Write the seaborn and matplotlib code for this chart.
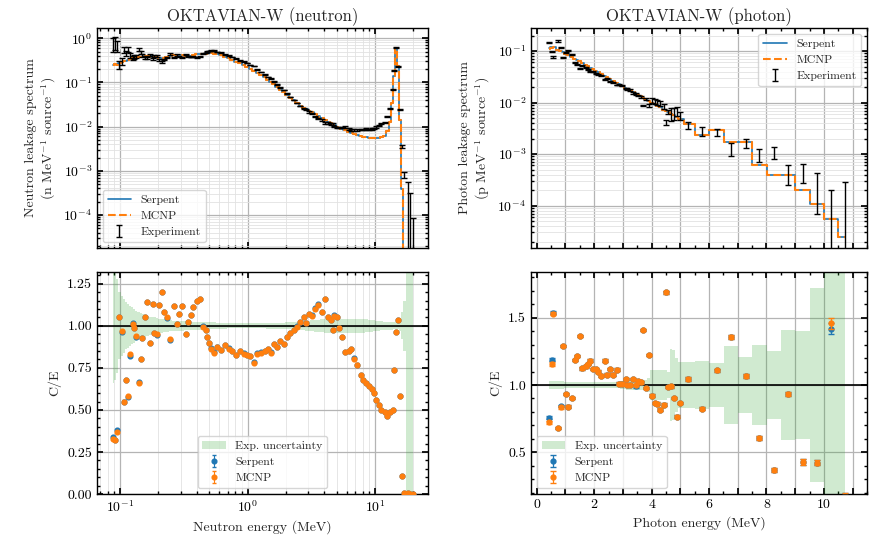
import numpy as np
import pandas as pd
import seaborn as sns
import matplotlib
matplotlib.use("Agg")
import matplotlib.pyplot as plt
from matplotlib.ticker import MultipleLocator, LogLocator, NullFormatter, FuncFormatter

# ---------------- neutron data (OKTAVIAN-W) ----------------
n_energy = [0.088, 0.091, 0.095, 0.099, 0.103, 0.107, 0.111, 0.115, 0.120, 0.126,
            0.129, 0.133, 0.141, 0.146, 0.150, 0.157, 0.164, 0.172, 0.180, 0.185,
            0.195, 0.203, 0.212, 0.220, 0.233, 0.247, 0.263, 0.279, 0.290, 0.309,
            0.328, 0.341, 0.359, 0.376, 0.400, 0.424, 0.450, 0.470, 0.484, 0.499,
            0.520, 0.545, 0.58, 0.62, 0.66, 0.71, 0.76, 0.81, 0.87, 0.93,
            0.99, 1.05, 1.12, 1.19, 1.28, 1.36, 1.44, 1.53, 1.60, 1.70,
            1.81, 1.92, 2.04, 2.17, 2.30, 2.44, 2.59, 2.75, 2.89, 3.03,
            3.20, 3.40, 3.60, 3.84, 4.05, 4.30, 4.50, 4.67, 4.80, 5.00,
            5.20, 5.48, 5.80, 6.20, 6.50, 6.85, 7.20, 7.70, 8.10, 8.50,
            9.00, 9.40, 9.80, 10.2, 10.8, 11.2, 11.9, 12.5, 13.2, 13.7,
            14.0, 14.5, 15.1, 15.7, 16.4, 17.0, 18.1, 18.8, 19.7]

# Serpent leakage spectrum at the experimental energies
n_serpent = [0.25, 0.255, 0.26, 0.27, 0.285, 0.30, 0.31, 0.32, 0.34, 0.36,
             0.37, 0.36, 0.37, 0.38, 0.38, 0.39, 0.40, 0.38, 0.39, 0.38,
             0.37, 0.36, 0.35, 0.36, 0.38, 0.40, 0.41, 0.42, 0.42, 0.41,
             0.40, 0.39, 0.40, 0.42, 0.43, 0.44, 0.45, 0.45, 0.46, 0.46,
             0.46, 0.45, 0.43, 0.41, 0.38, 0.35, 0.32, 0.29, 0.27, 0.245,
             0.225, 0.205, 0.185, 0.165, 0.145, 0.13, 0.115, 0.102, 0.092, 0.08,
             0.069, 0.06, 0.052, 0.045, 0.039, 0.034, 0.030, 0.027, 0.025, 0.023,
             0.021, 0.019, 0.017, 0.0155, 0.014, 0.0128, 0.012, 0.0112, 0.0107, 0.0100,
             0.0095, 0.0089, 0.0082, 0.0076, 0.0072, 0.0068, 0.0064, 0.0061, 0.0059, 0.0058,
             0.0056, 0.0055, 0.0055, 0.0055, 0.0056, 0.0058, 0.0062, 0.0078, 0.0125, 0.035,
             0.14, 0.6, 0.24, 0.014, 3.8e-4, 3.2e-6, 7e-7, 2.6e-7, 7e-8]

n_ce_serpent = [0.34, 0.32, 0.38, 1.055, 0.966, 0.55, 0.68, 0.575, 0.82, 1.016,
                0.99, 0.936, 0.665, 0.80, 0.927, 1.055, 1.14, 0.897, 1.13, 0.957,
                0.946, 1.125, 1.204, 1.085, 1.046, 0.917, 1.12, 1.01, 1.07, 1.12,
                0.95, 1.025, 1.065, 1.11, 1.15, 1.16, 0.996, 0.976, 0.936, 0.897,
                0.867, 0.843, 0.877, 0.857, 0.887, 0.867, 0.851, 0.827, 0.851, 0.837,
                0.827, 0.823, 0.784, 0.837, 0.843, 0.85, 0.863, 0.843, 0.89, 0.877,
                0.91, 0.89, 0.936, 0.957, 0.976, 0.996, 1.025, 1.055, 1.016, 1.07,
                1.065, 1.105, 1.13, 1.085, 1.16, 1.055, 1.035, 0.976, 1.065, 1.055,
                0.99, 0.936, 0.843, 0.85, 0.86, 0.807, 0.768, 0.708, 0.679, 0.659,
                0.645, 0.625, 0.60, 0.56, 0.53, 0.50, 0.49, 0.466, 0.49, 0.50,
                0.738, 0.966, 1.036, 0.583, 0.107, 0.004, 0.003, 0.002, 0.002]

n_ce_mcnp = [0.33, 0.32, 0.37, 1.05, 0.97, 0.55, 0.675, 0.58, 0.83, 1.01,
             0.99, 0.94, 0.66, 0.80, 0.93, 1.05, 1.14, 0.90, 1.13, 0.96,
             0.95, 1.125, 1.20, 1.085, 1.05, 0.92, 1.12, 1.01, 1.07, 1.12,
             0.95, 1.025, 1.065, 1.11, 1.15, 1.16, 0.995, 0.975, 0.935, 0.895,
             0.865, 0.84, 0.875, 0.855, 0.885, 0.865, 0.85, 0.825, 0.85, 0.835,
             0.825, 0.82, 0.78, 0.835, 0.84, 0.85, 0.86, 0.84, 0.89, 0.875,
             0.91, 0.89, 0.935, 0.955, 0.975, 0.995, 1.02, 1.05, 1.015, 1.07,
             1.06, 1.10, 1.125, 1.08, 1.16, 1.05, 1.035, 0.975, 1.06, 1.05,
             0.99, 0.935, 0.845, 0.85, 0.86, 0.805, 0.77, 0.71, 0.68, 0.66,
             0.645, 0.625, 0.60, 0.56, 0.53, 0.50, 0.49, 0.465, 0.49, 0.50,
             0.74, 0.965, 1.035, 0.58, 0.107, 0.004, 0.003, 0.002, 0.002]

# relative experimental uncertainty
n_unc = [0.34, 0.32, 0.28, 0.20, 0.18, 0.16, 0.14, 0.13, 0.12, 0.11,
         0.10, 0.09, 0.08, 0.075, 0.07, 0.065, 0.06, 0.055, 0.05, 0.05,
         0.045, 0.042, 0.04, 0.038, 0.035, 0.033, 0.031, 0.03, 0.029, 0.028,
         0.027, 0.026, 0.025, 0.025, 0.024, 0.023, 0.022, 0.022, 0.021, 0.021,
         0.02, 0.02, 0.018, 0.017, 0.016, 0.015, 0.015, 0.015, 0.015, 0.015,
         0.015, 0.015, 0.015, 0.015, 0.015, 0.015, 0.016, 0.016, 0.017, 0.017,
         0.018, 0.018, 0.02, 0.02, 0.021, 0.022, 0.024, 0.026, 0.028, 0.03,
         0.032, 0.034, 0.036, 0.038, 0.04, 0.04, 0.04, 0.04, 0.04, 0.04,
         0.04, 0.04, 0.04, 0.04, 0.04, 0.04, 0.04, 0.04, 0.04, 0.038,
         0.036, 0.034, 0.032, 0.03, 0.028, 0.026, 0.025, 0.025, 0.024, 0.022,
         0.02, 0.02, 0.02, 0.03, 0.08, 0.15, 1.4, 1.4, 1.4]

# ---------------- photon data (OKTAVIAN-W) ----------------
p_energy = [0.43, 0.52, 0.58, 0.74, 0.83, 0.90, 1.03, 1.09, 1.23, 1.32,
            1.40, 1.50, 1.59, 1.70, 1.79, 1.87, 1.96, 2.06, 2.15, 2.25,
            2.37, 2.45, 2.54, 2.66, 2.78, 2.87, 2.96, 3.10, 3.15, 3.24,
            3.36, 3.47, 3.53, 3.62, 3.70, 3.80, 3.90, 4.00, 4.11, 4.20,
            4.29, 4.42, 4.49, 4.58, 4.67, 4.77, 4.89, 4.98, 5.27, 5.77,
            6.26, 6.75, 7.27, 7.75, 8.26, 8.76, 9.26, 9.75, 10.25, 10.75]

p_serpent = [0.112, 0.118, 0.118, 0.106, 0.100, 0.0960, 0.0887, 0.0849, 0.0766, 0.0716,
             0.0676, 0.0628, 0.0587, 0.0542, 0.0507, 0.0478, 0.0447, 0.0415, 0.0389, 0.0361,
             0.0330, 0.0312, 0.0292, 0.0267, 0.0244, 0.0229, 0.0214, 0.0193, 0.0186, 0.0174,
             0.0159, 0.0147, 0.0141, 0.0132, 0.0124, 0.0115, 0.0107, 0.00995, 0.00917, 0.00859,
             0.00804, 0.0073, 0.00693, 0.00649, 0.00607, 0.00564, 0.00516, 0.00483, 3.8e-3, 2.3e-3,
             2.9e-3, 1.75e-3, 1.75e-3, 6.0e-4, 4.0e-4, 4.0e-4, 2.0e-4, 1.05e-4, 5.4e-5, 2.4e-5]

p_ce_serpent = [0.756, 1.187, 1.537, 0.68, 0.843, 1.29, 0.934, 0.84, 0.904, 1.187,
                1.216, 1.364, 1.125, 1.138, 1.157, 1.182, 1.118, 1.118, 1.10, 1.069,
                1.18, 1.076, 1.118, 1.076, 1.113, 1.01, 1.01, 1.044, 1.0, 1.0,
                1.044, 0.99, 1.027, 1.02, 1.41, 0.978, 1.224, 0.921, 0.867, 0.862,
                0.818, 0.855, 1.69, 0.985, 0.99, 0.904, 0.764, 0.867, 1.044, 0.823,
                1.109, 1.36, 1.069, 0.609, 0.37, 0.936, 0.429, 0.424, 1.42, 0.16]

p_ce_mcnp = [0.724, 1.157, 1.53, 0.68, 0.835, 1.29, 0.934, 0.84, 0.904, 1.187,
             1.216, 1.364, 1.125, 1.138, 1.157, 1.182, 1.118, 1.118, 1.10, 1.069,
             1.18, 1.076, 1.118, 1.076, 1.113, 1.01, 1.01, 1.044, 1.0, 1.0,
             1.044, 1.0, 1.027, 1.02, 1.41, 0.978, 1.224, 0.921, 0.867, 0.862,
             0.818, 0.855, 1.69, 0.985, 0.99, 0.904, 0.764, 0.867, 1.044, 0.823,
             1.109, 1.36, 1.069, 0.609, 0.37, 0.936, 0.429, 0.424, 1.46, 0.16]

p_unc = [0.03, 0.03, 0.03, 0.03, 0.03, 0.03, 0.02, 0.02, 0.02, 0.02,
         0.02, 0.02, 0.02, 0.02, 0.02, 0.02, 0.02, 0.02, 0.02, 0.02,
         0.02, 0.02, 0.02, 0.02, 0.02, 0.02, 0.03, 0.03, 0.04, 0.04,
         0.04, 0.04, 0.04, 0.04, 0.04, 0.04, 0.05, 0.11, 0.11, 0.11,
         0.11, 0.11, 0.11, 0.10, 0.27, 0.26, 0.20, 0.17, 0.17, 0.18,
         0.16, 0.29, 0.21, 0.30, 0.25, 0.41, 0.40, 0.72, 4.3, 0.93]

p_ce_stat = [0.012, 0.012, 0.01, 0.01, 0.01, 0.01, 0.01, 0.01, 0.01, 0.01,
             0.01, 0.01, 0.01, 0.01, 0.01, 0.01, 0.01, 0.01, 0.01, 0.01,
             0.01, 0.01, 0.01, 0.01, 0.01, 0.01, 0.01, 0.01, 0.01, 0.01,
             0.01, 0.01, 0.01, 0.01, 0.01, 0.01, 0.01, 0.01, 0.01, 0.01,
             0.01, 0.01, 0.012, 0.01, 0.01, 0.01, 0.01, 0.01, 0.012, 0.012,
             0.012, 0.015, 0.015, 0.015, 0.015, 0.015, 0.02, 0.02, 0.04, 0.04]
n_ce_stat = 0.006

# ---------------- derived tables ----------------
neu = pd.DataFrame({"E": n_energy, "serpent": n_serpent,
                    "ce_s": n_ce_serpent, "ce_m": n_ce_mcnp, "unc": n_unc})
neu["exp"] = neu["serpent"] / neu["ce_s"]
neu["mcnp"] = neu["exp"] * neu["ce_m"]

pho = pd.DataFrame({"E": p_energy, "serpent": p_serpent,
                    "ce_s": p_ce_serpent, "ce_m": p_ce_mcnp, "unc": p_unc,
                    "stat": p_ce_stat})
pho["exp"] = pho["serpent"] / pho["ce_s"]
pho["mcnp"] = pho["exp"] * pho["ce_m"]

# ---------------- style ----------------
sns.set_theme(style="ticks")
plt.rcParams.update({
    "font.family": ["cmr10", "DejaVu Serif"],
    "mathtext.fontset": "cm",
    "axes.formatter.use_mathtext": True,
    "axes.unicode_minus": False,
    "axes.edgecolor": "black",
    "axes.linewidth": 1.0,
    "xtick.direction": "in",
    "ytick.direction": "in",
    "xtick.top": True,
    "ytick.right": True,
    "xtick.color": "black",
    "ytick.color": "black",
    "xtick.labelsize": 10,
    "ytick.labelsize": 10,
    "xtick.major.size": 4,
    "ytick.major.size": 4,
    "xtick.minor.size": 2,
    "ytick.minor.size": 2,
    "xtick.minor.visible": True,
    "ytick.minor.visible": True,
    "legend.fontsize": 8.5,
    "legend.edgecolor": "0.8",
})

blue = "#1f77b4"
orange = "#ff7f0e"
green = "#2ca02c"
major_grid = dict(color="#b4b4b4", lw=0.9)
minor_grid = dict(color="#e2e2e2", lw=0.6)

fig = plt.figure(figsize=(8.75, 5.35), dpi=100)
W, H = 875, 535
ax_tl = fig.add_axes([97 / W, (H - 248) / H, 331 / W, 220 / H])
ax_bl = fig.add_axes([97 / W, (H - 494) / H, 331 / W, 222 / H], sharex=ax_tl)
ax_tr = fig.add_axes([531 / W, (H - 248) / H, 336 / W, 220 / H])
ax_br = fig.add_axes([531 / W, (H - 494) / H, 336 / W, 222 / H], sharex=ax_tr)


def log_y(ax):
    ax.set_yscale("log")
    ax.yaxis.set_major_locator(LogLocator(base=10, numticks=20))
    ax.yaxis.set_minor_locator(LogLocator(base=10, subs=np.arange(2, 10), numticks=100))
    ax.yaxis.set_minor_formatter(NullFormatter())


# ---------------- neutron spectrum ----------------
ax = ax_tl
sns.lineplot(data=neu, x="E", y="serpent", ax=ax, color=blue, lw=1.2,
             drawstyle="steps-mid", estimator=None, label="Serpent", legend=False)
sns.lineplot(data=neu, x="E", y="mcnp", ax=ax, color=orange, lw=1.5, linestyle="--",
             drawstyle="steps-mid", estimator=None, label="MCNP", legend=False)
eb = ax.errorbar(neu["E"], neu["exp"], yerr=neu["exp"] * neu["unc"], fmt="none",
                 ecolor="black", elinewidth=1.0, capsize=2, capthick=1.0, zorder=4,
                 label="Experiment")
ax.set_xscale("log")
log_y(ax)
ax.set_xlim(0.066, 26)
ax.set_ylim(1.8e-5, 1.7)
ax.grid(which="major", **major_grid)
ax.grid(which="minor", **minor_grid)
ax.tick_params(labelbottom=False)
ax.set_xlabel("")
ax.set_ylabel("Neutron leakage spectrum\n(n MeV$^{-1}$ source$^{-1}$)", fontsize=10)
ax.set_title("OKTAVIAN-W (neutron)", fontsize=12, pad=5)
h = ax.get_lines()[:2]
ax.legend([h[0], h[1], eb], ["Serpent", "MCNP", "Experiment"], loc="lower left")

# ---------------- neutron C/E ----------------
ax = ax_bl
band = ax.fill_between(neu["E"], 1 - neu["unc"], 1 + neu["unc"], step="mid",
                       color=green, alpha=0.22, lw=0, label="Exp. uncertainty")
ax.axhline(1.0, color="black", lw=1.2, zorder=2)
e1 = ax.errorbar(neu["E"], neu["ce_s"], yerr=n_ce_stat, fmt="o", ms=3.4, color=blue,
                 elinewidth=0.8, capsize=1.5, zorder=3, label="Serpent")
e2 = ax.errorbar(neu["E"], neu["ce_m"], yerr=n_ce_stat, fmt="o", ms=3.4, color=orange,
                 elinewidth=0.8, capsize=1.5, zorder=4, label="MCNP")
ax.set_ylim(0, 1.32)
ax.yaxis.set_major_locator(MultipleLocator(0.25))
ax.yaxis.set_minor_locator(MultipleLocator(0.05))
ax.yaxis.set_major_formatter(FuncFormatter(lambda v, p: f"{v:.2f}"))
ax.xaxis.set_minor_formatter(NullFormatter())
ax.grid(axis="x", which="major", **major_grid)
ax.grid(axis="x", which="minor", **minor_grid)
ax.grid(axis="y", which="major", **major_grid)
ax.set_xlabel("Neutron energy (MeV)", fontsize=10)
ax.set_ylabel("C/E", fontsize=10)
ax.legend([band, e1, e2], ["Exp. uncertainty", "Serpent", "MCNP"], loc="lower center")

# ---------------- photon spectrum ----------------
ax = ax_tr
sns.lineplot(data=pho, x="E", y="serpent", ax=ax, color=blue, lw=1.2,
             drawstyle="steps-mid", estimator=None, label="Serpent", legend=False)
sns.lineplot(data=pho, x="E", y="mcnp", ax=ax, color=orange, lw=1.5, linestyle="--",
             drawstyle="steps-mid", estimator=None, label="MCNP", legend=False)
ebp = ax.errorbar(pho["E"], pho["exp"], yerr=pho["exp"] * pho["unc"], fmt="none",
                  ecolor="black", elinewidth=1.0, capsize=2.5, capthick=1.0, zorder=4,
                  label="Experiment")
log_y(ax)
ax.set_xlim(-0.2, 11.5)
ax.set_ylim(1.5e-5, 0.28)
ax.xaxis.set_major_locator(MultipleLocator(1))
ax.xaxis.set_minor_locator(MultipleLocator(0.5))
ax.grid(axis="x", which="major", **major_grid)
ax.grid(axis="y", which="major", **major_grid)
ax.grid(axis="y", which="minor", **minor_grid)
ax.tick_params(labelbottom=False)
ax.set_xlabel("")
ax.set_ylabel("Photon leakage spectrum\n(p MeV$^{-1}$ source$^{-1}$)", fontsize=10)
ax.set_title("OKTAVIAN-W (photon)", fontsize=12, pad=5)
h = ax.get_lines()[:2]
ax.legend([h[0], h[1], ebp], ["Serpent", "MCNP", "Experiment"], loc="upper right")

# ---------------- photon C/E ----------------
ax = ax_br
bandp = ax.fill_between(pho["E"], 1 - pho["unc"], 1 + pho["unc"], step="mid",
                        color=green, alpha=0.22, lw=0, label="Exp. uncertainty")
ax.axhline(1.0, color="black", lw=1.2, zorder=2)
p1 = ax.errorbar(pho["E"], pho["ce_s"], yerr=pho["stat"], fmt="o", ms=3.5, color=blue,
                 elinewidth=0.9, capsize=2, zorder=3, label="Serpent")
p2 = ax.errorbar(pho["E"], pho["ce_m"], yerr=pho["stat"], fmt="o", ms=3.5, color=orange,
                 elinewidth=0.9, capsize=2, zorder=4, label="MCNP")
ax.set_ylim(0.19, 1.84)
ax.yaxis.set_major_locator(MultipleLocator(0.5))
ax.yaxis.set_minor_locator(MultipleLocator(0.1))
ax.yaxis.set_major_formatter(FuncFormatter(lambda v, p: f"{v:.1f}"))
ax.xaxis.set_major_formatter(FuncFormatter(lambda v, p: f"{v:.0f}" if round(v) % 2 == 0 else ""))
ax.grid(axis="x", which="major", **major_grid)
ax.grid(axis="y", which="major", **major_grid)
ax.set_xlabel("Photon energy (MeV)", fontsize=10)
ax.set_ylabel("C/E", fontsize=10)
ax.legend([bandp, p1, p2], ["Exp. uncertainty", "Serpent", "MCNP"], loc="lower left")

for a in (ax_tl, ax_bl, ax_tr, ax_br):
    a.set_axisbelow(True)

fig.savefig("out.png", dpi=100)
